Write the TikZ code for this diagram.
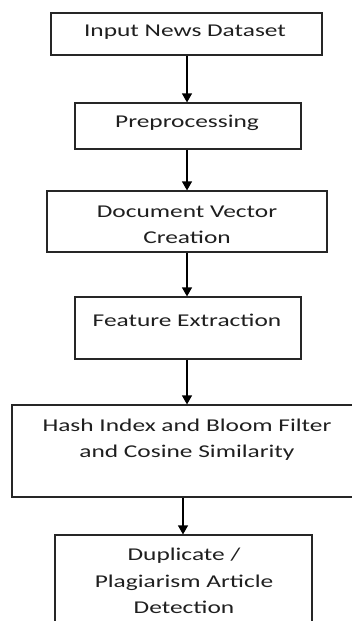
\documentclass[tikz,border=0pt]{standalone}
\usepackage{fontspec}
\setmainfont{Carlito}[FakeStretch=1.41]
\usetikzlibrary{arrows.meta}

\tikzset{
  stagebox/.style={draw=black!85, line width=1.2pt, rectangle, inner sep=0pt},
  stagetext/.style={anchor=base, inner sep=0pt, text=black!88,
    font=\fontsize{18pt}{27pt}\selectfont},
  flow/.style={draw=black, line width=1.2pt,
    -{Triangle[width=10pt,length=9pt]}},
}

\begin{document}
\begin{tikzpicture}[x=1pt, y=-1pt]
  \useasboundingbox (0,0) rectangle (352,621);
  \clip (0,0) rectangle (352,621);

  % processing stages (frames)
  \node[stagebox, minimum width=271pt, minimum height=42pt] (b1) at (186.5,34) {};
  \node[stagebox, minimum width=226pt, minimum height=46pt] (b2) at (188,126) {};
  \node[stagebox, minimum width=280pt, minimum height=61pt] (b3) at (187,221.5) {};
  \node[stagebox, minimum width=226pt, minimum height=62pt] (b4) at (188,328) {};
  \node[stagebox, minimum width=350pt, minimum height=92pt] (b5) at (187,451) {};
  \node[stagebox, minimum width=257pt, minimum height=110pt] (b6) at (183.5,590) {};

  % stage labels
  \node[stagetext] (t1) at (185,36) {Input News Dataset};
  \node[stagetext] (t2) at (187,127) {Preprocessing};
  \node[stagetext] (t3a) at (187,217) {Document Vector};
  \node[stagetext] (t3b) at (187,243) {Creation};
  \node[stagetext] (t4) at (187,326) {Feature Extraction};
  \node[stagetext] (t5a) at (187,431) {Hash Index and Bloom Filter};
  \node[stagetext] (t5b) at (187,457) {and Cosine Similarity};
  \node[stagetext] (t6a) at (184,560) {Duplicate /};
  \node[stagetext] (t6b) at (184,587) {Plagiarism Article};
  \node[stagetext] (t6c) at (184,613) {Detection};

  % flow between stages
  \draw[flow] (b1.south -| 187,0) -- (b2.north -| 187,0);
  \draw[flow] (b2.south -| 187,0) -- (b3.north -| 187,0);
  \draw[flow] (b3.south -| 187,0) -- (b4.north -| 187,0);
  \draw[flow] (b4.south -| 187,0) -- (b5.north -| 187,0);
  \draw[flow] (b5.south -| 183,0) -- (b6.north -| 183,0);
\end{tikzpicture}
\end{document}
